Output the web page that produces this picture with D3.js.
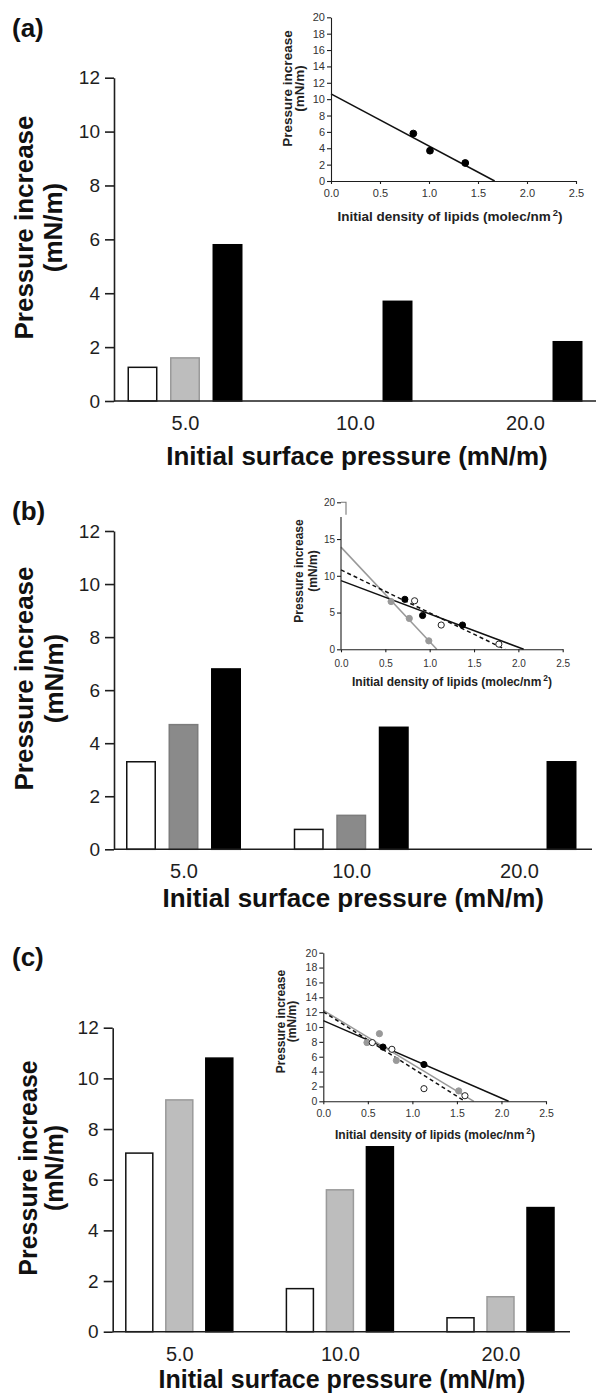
<!DOCTYPE html>
<html>
<head>
<meta charset="utf-8">
<script src="https://cdn.jsdelivr.net/npm/d3@7"></script>
<style>
  html, body { margin: 0; padding: 0; background: #fff; }
  svg { display: block; }
</style>
</head>
<body>
<svg id="fig" width="598" height="1396"></svg>
<script>
// ---------- shared categories and ticks ----------
const categories = ["5.0", "10.0", "20.0"];
const seriesKeys = ["open", "gray", "black"];
const yTicksMain = [0, 2, 4, 6, 8, 10, 12];
const densityTicks = [0, 0.5, 1.0, 1.5, 2.0, 2.5];
const insetTicksEven = [0, 2, 4, 6, 8, 10, 12, 14, 16, 18, 20];
const insetTicksFive = [0, 5, 10, 15, 20];

// ---------- panel (a) ----------
const aOpen  = [1.25, null, null];
const aGray  = [1.6, null, null];
const aBlack = [5.8, 3.7, 2.2];
const aInsetBlackX = [0.84, 1.01, 1.37];
const aInsetBlackY = [5.8, 3.7, 2.2];
const aFitBlack = [[0, 10.65], [1.67, 0]];

// ---------- panel (b) ----------
const bOpen  = [3.3, 0.75, null];
const bGray  = [4.7, 1.28, null];
const bBlack = [6.8, 4.6, 3.3];
const bInsetBlackX = [0.72, 0.92, 1.37];
const bInsetBlackY = [6.8, 4.6, 3.3];
const bInsetOpenX  = [0.83, 1.13, 1.78];
const bInsetOpenY  = [6.6, 3.3, 0.7];
const bInsetGrayX  = [0.565, 0.77, 0.99];
const bInsetGrayY  = [6.5, 4.2, 1.15];
const bFitBlack = [[0, 9.35], [2.06, 0]];
const bFitOpen  = [[0, 10.8], [1.85, 0]];
const bFitGray  = [[0, 13.9], [1.08, 0]];

// ---------- panel (c) ----------
const cOpen  = [7.05, 1.7, 0.55];
const cGray  = [9.15, 5.6, 1.38];
const cBlack = [10.8, 7.3, 4.9];
const cInsetBlackX = [0.67, 1.13];
const cInsetBlackY = [7.3, 4.95];
const cInsetGrayX  = [0.49, 0.63, 0.82, 1.52];
const cInsetGrayY  = [7.9, 9.1, 5.5, 1.4];
const cInsetOpenX  = [0.55, 0.77, 1.13, 1.59];
const cInsetOpenY  = [7.9, 7.0, 1.7, 0.75];
const cFitBlack = [[0, 10.85], [2.08, 0]];
const cFitGray  = [[0, 12.25], [1.69, 0]];
const cFitOpen  = [[0, 12.05], [1.59, 0]];

// ---------- drawing ----------
const FONT = "'Liberation Sans', Arial, Helvetica, sans-serif";
const INK = "#1e1e1e";
const svg = d3.select("#fig");

function zip(xs, ys) { return xs.map((x, i) => [x, ys[i]]); }

function mainPanel(p) {
  const g = svg.append("g");
  const y = d3.scaleLinear().domain([0, 12]).range([p.y0, p.y12]);
  const gx = d3.scalePoint().domain(categories).range([p.c0, p.c2]);
  const inner = d3.scaleBand().domain(seriesKeys)
    .range([-p.groupW / 2, p.groupW / 2]).paddingInner(p.pad);

  const rows = [];
  categories.forEach((c, i) => seriesKeys.forEach(k => {
    const v = p.values[k][i];
    if (v != null) rows.push({ c, k, v });
  }));

  g.selectAll("rect.bar").data(rows).join("rect")
    .attr("class", "bar")
    .attr("x", d => gx(d.c) + inner(d.k))
    .attr("y", d => y(d.v))
    .attr("width", inner.bandwidth())
    .attr("height", d => y(0) - y(d.v))
    .attr("fill", d => p.fill[d.k])
    .attr("stroke", d => p.stroke[d.k])
    .attr("stroke-width", 1.5);

  // y axis
  const ya = g.append("g")
    .attr("transform", `translate(${p.axisX},0)`)
    .call(d3.axisLeft(y).tickValues(yTicksMain).tickSize(9).tickSizeOuter(0).tickPadding(5));
  ya.attr("font-family", FONT).attr("font-size", 19);
  ya.select(".domain").attr("stroke", INK).attr("stroke-width", 1.6);
  ya.selectAll(".tick line").attr("stroke", INK).attr("stroke-width", 1.6);
  ya.selectAll(".tick text").attr("fill", INK);

  // x axis: category labels and baseline
  const xa = g.append("g")
    .attr("transform", `translate(0,${y(0)})`)
    .call(d3.axisBottom(gx).tickSize(0).tickPadding(15));
  xa.attr("font-family", FONT).attr("font-size", 20);
  xa.select(".domain").remove();
  xa.selectAll(".tick text").attr("fill", INK);
  g.append("line")
    .attr("x1", p.axisX).attr("x2", p.xEnd)
    .attr("y1", y(0)).attr("y2", y(0))
    .attr("stroke", INK).attr("stroke-width", 1.6);

  // axis titles
  const yt = g.append("g")
    .attr("font-family", FONT).attr("font-weight", "bold")
    .attr("font-size", p.titleSize).attr("fill", "#111")
    .attr("text-anchor", "middle");
  yt.append("text").attr("transform", `translate(${p.yTitleX1},${p.yTitleCY}) rotate(-90)`)
    .text("Pressure increase");
  yt.append("text").attr("transform", `translate(${p.yTitleX2},${p.yTitleCY}) rotate(-90)`)
    .text("(mN/m)");

  g.append("text")
    .attr("x", (p.c0 + p.c2) / 2 + 2).attr("y", p.xTitleY)
    .attr("font-family", FONT).attr("font-weight", "bold")
    .attr("font-size", p.titleSize).attr("fill", "#111")
    .attr("text-anchor", "middle")
    .text("Initial surface pressure (mN/m)");

  // panel letter
  g.append("text")
    .attr("x", 12).attr("y", p.letterY)
    .attr("font-family", FONT).attr("font-weight", "bold")
    .attr("font-size", 26).attr("fill", "#111")
    .text(p.letter);
}

function insetPanel(q) {
  const g = svg.append("g");
  const x = d3.scaleLinear().domain([0, 2.5]).range([q.x0, q.x1]);
  const y = d3.scaleLinear().domain([0, 20]).range([q.yb, q.yt]);
  const line = d3.line().x(d => x(d[0])).y(d => y(d[1]));

  // fitted lines
  q.fits.forEach(f => {
    g.append("path").attr("d", line(f.pts))
      .attr("fill", "none").attr("stroke", f.color)
      .attr("stroke-width", 1.5)
      .attr("stroke-dasharray", f.dash || null);
  });

  // points
  q.points.forEach(s => {
    g.selectAll(null).data(s.pts).join("circle")
      .attr("cx", d => x(d[0])).attr("cy", d => y(d[1]))
      .attr("r", q.r)
      .attr("fill", s.fill).attr("stroke", s.stroke).attr("stroke-width", 1);
  });

  // y axis
  const ya = g.append("g")
    .attr("transform", `translate(${q.x0},0)`)
    .call(d3.axisLeft(y).tickValues(q.yTicks).tickSize(4).tickSizeOuter(0).tickPadding(2));
  ya.attr("font-family", FONT).attr("font-size", q.tickSize);
  ya.select(".domain").attr("stroke", INK).attr("stroke-width", 1.1);
  ya.selectAll(".tick line").attr("stroke", INK).attr("stroke-width", 1.1);
  ya.selectAll(".tick text").attr("fill", "#333");
  if (q.broken) {
    // axis interrupted just below the top tick
    ya.select(".domain").remove();
    g.append("path")
      .attr("d", `M${q.x0},${y(0)}V${y(18)}`)
      .attr("stroke", INK).attr("stroke-width", 1.1).attr("fill", "none");
    g.append("path")
      .attr("d", `M${q.x0},${y(20)}H${q.x0 + 5}V${y(18.3)}`)
      .attr("stroke", "#777").attr("stroke-width", 1.1).attr("fill", "none");
  }

  // x axis
  const xa = g.append("g")
    .attr("transform", `translate(0,${q.yb})`)
    .call(d3.axisBottom(x).tickValues(densityTicks).tickFormat(d3.format(".1f"))
      .tickSize(3).tickSizeOuter(0).tickPadding(q.xPad));
  xa.attr("font-family", FONT).attr("font-size", q.tickSize);
  xa.select(".domain").attr("stroke", INK).attr("stroke-width", 1.1);
  xa.selectAll(".tick line").attr("stroke", INK).attr("stroke-width", 1.1);
  xa.selectAll(".tick text").attr("fill", "#333");

  // titles
  const yt = g.append("g")
    .attr("font-family", FONT).attr("font-weight", "bold")
    .attr("font-size", q.labelSize).attr("fill", "#222")
    .attr("text-anchor", "middle");
  yt.append("text").attr("transform", `translate(${q.yLabX1},${q.yLabCY}) rotate(-90)`)
    .text("Pressure increase");
  yt.append("text").attr("transform", `translate(${q.yLabX2},${q.yLabCY}) rotate(-90)`)
    .text("(mN/m)");

  const xt = g.append("text")
    .attr("x", q.xLabCX).attr("y", q.xLabY)
    .attr("font-family", FONT).attr("font-weight", "bold")
    .attr("font-size", q.labelSize).attr("fill", "#222")
    .attr("text-anchor", "middle");
  xt.append("tspan").text("Initial density of lipids (molec/nm");
  xt.append("tspan").attr("dx", 2).attr("dy", -q.labelSize * 0.4)
    .attr("font-size", q.labelSize * 0.7).text("2");
  xt.append("tspan").attr("dy", q.labelSize * 0.4).text(")");
}

// ---------- bar panels ----------
const lightFill = { open: "#ffffff", gray: "#bdbdbd", black: "#000000" };
const lightStroke = { open: "#111111", gray: "#9a9a9a", black: "#000000" };
const darkFill = { open: "#ffffff", gray: "#8a8a8a", black: "#000000" };
const darkStroke = { open: "#111111", gray: "#7c7c7c", black: "#000000" };

mainPanel({
  letter: "(a)", letterY: 36.5,
  values: { open: aOpen, gray: aGray, black: aBlack },
  fill: lightFill, stroke: lightStroke,
  y0: 401, y12: 77.7, axisX: 114, xEnd: 596,
  c0: 185, c2: 525, groupW: 113.5, pad: 0.33,
  titleSize: 26, yTitleX1: 33, yTitleX2: 62, yTitleCY: 227.5, xTitleY: 464.5
});

mainPanel({
  letter: "(b)", letterY: 520,
  values: { open: bOpen, gray: bGray, black: bBlack },
  fill: darkFill, stroke: darkStroke,
  y0: 849.3, y12: 531, axisX: 114, xEnd: 592,
  c0: 183.5, c2: 519, groupW: 113.5, pad: 0.33,
  titleSize: 26, yTitleX1: 33, yTitleX2: 63, yTitleCY: 678.5, xTitleY: 907
});

mainPanel({
  letter: "(c)", letterY: 966,
  values: { open: cOpen, gray: cGray, black: cBlack },
  fill: lightFill, stroke: lightStroke,
  y0: 1331.7, y12: 1027.7, axisX: 112.7, xEnd: 570,
  c0: 179.3, c2: 500.5, groupW: 107, pad: 0.325,
  titleSize: 25, yTitleX1: 37, yTitleX2: 63, yTitleCY: 1168, xTitleY: 1388
});

// ---------- density insets ----------
insetPanel({
  x0: 331, x1: 576, yb: 181, yt: 17.3, yTicks: insetTicksEven,
  tickSize: 11, xPad: 5, labelSize: 13.5, r: 3.4,
  yLabX1: 292, yLabX2: 304, yLabCY: 88.5, xLabCX: 450, xLabY: 221,
  fits: [{ pts: aFitBlack, color: "#111" }],
  points: [{ pts: zip(aInsetBlackX, aInsetBlackY), fill: "#000", stroke: "#000" }]
});

insetPanel({
  x0: 341, x1: 562.7, yb: 649.3, yt: 502.3, yTicks: insetTicksFive, broken: true,
  tickSize: 10, xPad: 7.5, labelSize: 12, r: 3.1,
  yLabX1: 303, yLabX2: 317, yLabCY: 571, xLabCX: 452, xLabY: 686,
  fits: [
    { pts: bFitGray, color: "#999" },
    { pts: bFitOpen, color: "#111", dash: "4,3" },
    { pts: bFitBlack, color: "#111" }
  ],
  points: [
    { pts: zip(bInsetGrayX, bInsetGrayY), fill: "#999", stroke: "#999" },
    { pts: zip(bInsetOpenX, bInsetOpenY), fill: "#fff", stroke: "#222" },
    { pts: zip(bInsetBlackX, bInsetBlackY), fill: "#000", stroke: "#000" }
  ]
});

insetPanel({
  x0: 323.3, x1: 546, yb: 1101.3, yt: 952.7, yTicks: insetTicksEven,
  tickSize: 10.5, xPad: 5.5, labelSize: 12, r: 3.1,
  yLabX1: 285, yLabX2: 296, yLabCY: 1021.5, xLabCX: 435, xLabY: 1139,
  fits: [
    { pts: cFitBlack, color: "#111" },
    { pts: cFitGray, color: "#999" },
    { pts: cFitOpen, color: "#111", dash: "4,3" }
  ],
  points: [
    { pts: zip(cInsetGrayX, cInsetGrayY), fill: "#999", stroke: "#999" },
    { pts: zip(cInsetOpenX, cInsetOpenY), fill: "#fff", stroke: "#222" },
    { pts: zip(cInsetBlackX, cInsetBlackY), fill: "#000", stroke: "#000" }
  ]
});
</script>
</body>
</html>
